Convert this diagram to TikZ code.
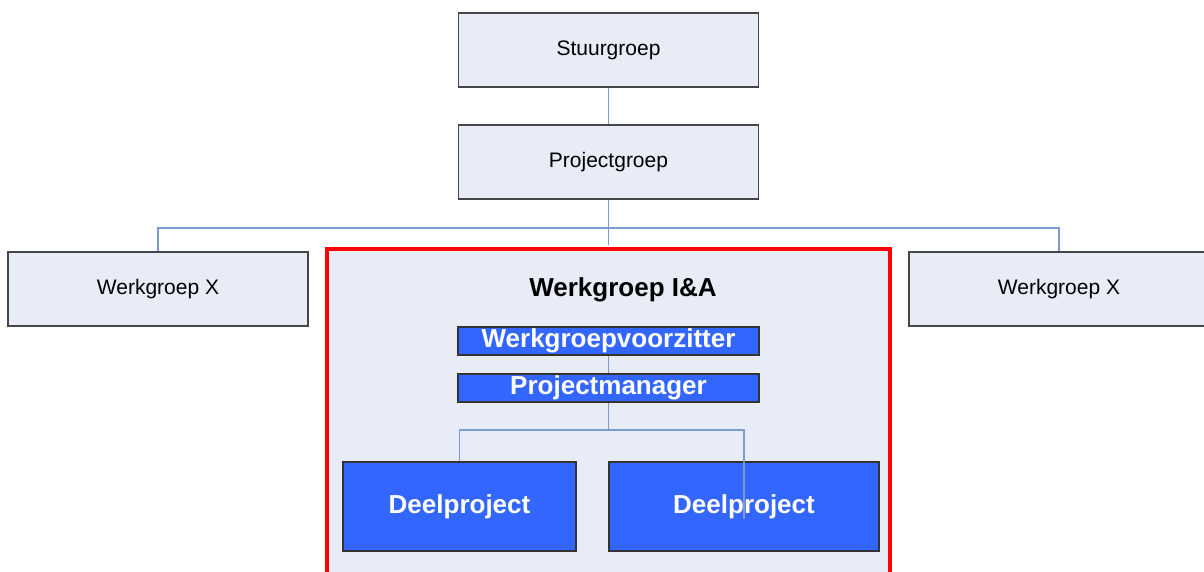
\documentclass[tikz,border=0pt]{standalone}
\usepackage{fontspec}
\setmainfont{Liberation Sans}
\definecolor{boxfill}{RGB}{231,236,247}
\definecolor{boxline}{RGB}{70,70,70}
\definecolor{roleblue}{RGB}{51,102,255}
\definecolor{connblue}{RGB}{124,156,208}
\tikzset{
    groepbox/.style={draw=boxline, fill=boxfill, line width=1.1pt, rectangle,
        inner sep=0pt, minimum width=300pt, minimum height=74pt,
        font=\fontsize{21}{25}\selectfont},
    rolebox/.style={draw=black!80, fill=roleblue, line width=1.1pt, rectangle,
        inner sep=0pt, text=white, font=\fontsize{26}{30}\selectfont\bfseries},
    conn/.style={draw=connblue, line width=1.2pt}
}
\begin{document}
\begin{tikzpicture}[x=1pt, y=-1pt]
        \useasboundingbox (0,0) rectangle (1204,572);
        % Top levels
        \node[groepbox] (stuur) at (608.5,50) {Stuurgroep};
        \node[groepbox] (projgroep) at (608.5,162) {Projectgroep};

        % Working groups
        \node[groepbox] (wgleft) at (158,289) {Werkgroep X};
        \node[groepbox] (wgright) at (1059,289) {Werkgroep X};
        \node[draw=red, fill=boxfill, line width=4.5pt, rectangle, inner sep=0pt,
              minimum width=563pt, minimum height=325pt] (wgia) at (608.5,411.5) {};
        \node[font=\fontsize{26}{30}\selectfont\bfseries] (wgtitle) at (623,290) {Werkgroep I\&A};

        % Roles inside the working group
        \node[rolebox, minimum width=301pt, minimum height=28pt] (voorz) at (608.5,341) {Werkgroepvoorzitter};
        \node[rolebox, minimum width=301pt, minimum height=28pt] (pm) at (608.5,388) {Projectmanager};
        \node[rolebox, minimum width=233pt, minimum height=89pt] (dp1) at (459.5,506.5) {Deelproject};
        \node[rolebox, minimum width=270pt, minimum height=89pt] (dp2) at (744,506.5) {Deelproject};

        % Connectors
        \coordinate (bus) at (608.5,228);
        \coordinate (bus2) at (608.5,430);
        \draw[conn] (stuur.south) -- (projgroep.north);
        \draw[conn] (projgroep.south) -- ([yshift=2pt]wgia.north);
        \draw[conn] (wgleft.north) |- (bus) -| (wgright.north);
        \draw[conn] (voorz.south) -- (pm.north);
        \draw[conn] (pm.south) -- (bus2);
        \draw[conn] (dp1.north) |- (bus2) -| ([yshift=-12pt]dp2.center);
    \end{tikzpicture}
\end{document}
